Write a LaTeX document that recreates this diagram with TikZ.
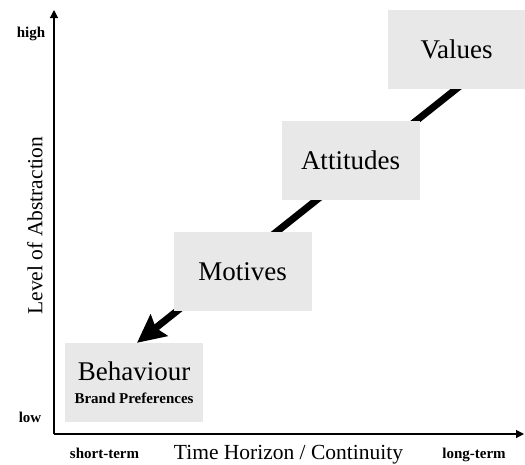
\documentclass[tikz,border=0pt]{standalone}
\usepackage{fontspec}
\setmainfont{Liberation Serif}
\usetikzlibrary{arrows.meta,backgrounds,calc}
\definecolor{boxgray}{RGB}{232,232,232}

\begin{document}
\begin{tikzpicture}[x=1pt,y=1pt,yscale=-1,xscale=1,
  stage/.style={fill=boxgray,minimum width=138pt,minimum height=79pt,inner sep=0pt,font=\fontsize{27}{30}\selectfont},
  tick label/.style={inner sep=0.75pt,anchor=base,font=\bfseries\fontsize{15}{17}\selectfont},
  axis title/.style={inner sep=0.75pt,font=\fontsize{21.5}{24}\selectfont},
  axis/.style={line width=1.2,-{Triangle[length=8pt,width=8pt]}},
  flow/.style={line width=7,-{Stealth[length=28pt,width=27pt,inset=4pt]}}]
\useasboundingbox (0,0) rectangle (525,464);

%Axes
\coordinate (origin) at (54,434);
\coordinate (ytop) at (54,10);
\coordinate (xend) at (524,434);
\draw [axis] (origin) -- (ytop);
\draw [axis] (origin) -- (xend);

%Shape: Rectangle [values]
\node (values) at (456.5,49) [stage] {Values};
%Shape: Rectangle [attitudes]
\node (attitudes) at (350.5,160) [stage] {Attitudes};
%Shape: Rectangle [motives]
\node (motives) at (242.5,271.5) [stage] {Motives};
%Shape: Rectangle [behaviour]
\node (behaviour) at (134,382.5) [stage,align=center] {Behaviour\\[-7pt]{\bfseries\fontsize{15}{17}\selectfont Brand Preferences}};

%Big arrow, behind the boxes
\coordinate (tip) at ([xshift=3pt]behaviour.north);
\begin{scope}[on background layer]
\draw [flow] ($(values.south)!-12pt!(tip)$) -- (tip);
\end{scope}

% Text Node
\node (high) at (31,37) [tick label] {high};
% Text Node
\node (low) at (30,422) [tick label] {low};
% Text Node
\node (shortterm) at (104.5,458) [tick label] {short-term};
% Text Node
\node (longterm) at (474,458) [tick label] {long-term};
% Text Node
\node (xtitle) at (288.5,459) [axis title,anchor=base] {Time Horizon / Continuity};
% Text Node
\node (ytitle) at (35,225.5) [axis title,rotate=90] {Level of Abstraction};

\end{tikzpicture}
\end{document}
